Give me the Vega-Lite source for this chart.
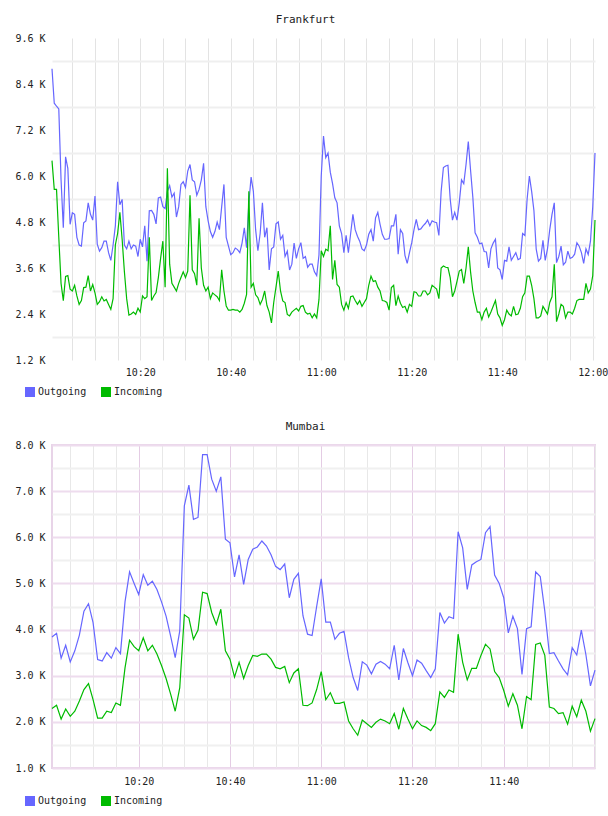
{
"$schema": "https://vega.github.io/schema/vega-lite/v6.json",
"padding": {"left": 13, "top": 14, "right": 0, "bottom": 5},
"background": "white",
"config": {"font": "DejaVu Sans Mono", "view": {"stroke": null}},
"spacing": 14,
"resolve": {"scale": {"x": "independent", "y": "independent", "color": "independent"}, "legend": {"color": "independent"}, "axis": {"x": "independent", "y": "independent"}},
"vconcat": [
{
"title": {"text": "Frankfurt", "font": "DejaVu Sans Mono", "fontSize": 11, "fontWeight": "normal", "color": "#222", "anchor": "middle", "offset": 8, "dx": -18},
"width": 543, "height": 322,
"data": {"format": {"parse": {"t": "date:'%H:%M:%S'"}}, "values": [
{"t":"10:00:30","Outgoing":8.8,"Incoming":6.4},{"t":"10:01:00","Outgoing":7.9,"Incoming":5.65},{"t":"10:01:30","Outgoing":7.82,"Incoming":5.65},{"t":"10:02:00","Outgoing":7.75,"Incoming":4.4},{"t":"10:02:30","Outgoing":5.9,"Incoming":3.2},{"t":"10:03:00","Outgoing":4.65,"Incoming":2.75},{"t":"10:03:30","Outgoing":6.5,"Incoming":3.38},{"t":"10:04:00","Outgoing":6.2,"Incoming":3.4},{"t":"10:04:30","Outgoing":4.74,"Incoming":3.05},{"t":"10:05:00","Outgoing":5.04,"Incoming":3.0},
{"t":"10:05:30","Outgoing":5.0,"Incoming":3.15},{"t":"10:06:00","Outgoing":4.4,"Incoming":2.87},{"t":"10:06:30","Outgoing":4.2,"Incoming":2.65},{"t":"10:07:00","Outgoing":4.17,"Incoming":2.75},{"t":"10:07:30","Outgoing":4.78,"Incoming":3.09},{"t":"10:08:00","Outgoing":4.83,"Incoming":3.1},{"t":"10:08:30","Outgoing":5.3,"Incoming":3.4},{"t":"10:09:00","Outgoing":5.0,"Incoming":3.0},{"t":"10:09:30","Outgoing":4.85,"Incoming":3.17},{"t":"10:10:00","Outgoing":5.48,"Incoming":2.95},
{"t":"10:10:30","Outgoing":4.22,"Incoming":2.65},{"t":"10:11:00","Outgoing":4.04,"Incoming":2.72},{"t":"10:11:30","Outgoing":4.13,"Incoming":2.85},{"t":"10:12:00","Outgoing":4.3,"Incoming":2.74},{"t":"10:12:30","Outgoing":4.3,"Incoming":2.78},{"t":"10:13:00","Outgoing":4.0,"Incoming":2.65},{"t":"10:13:30","Outgoing":3.8,"Incoming":2.52},{"t":"10:14:00","Outgoing":4.2,"Incoming":2.8},{"t":"10:14:30","Outgoing":4.7,"Incoming":4.2},{"t":"10:15:00","Outgoing":5.85,"Incoming":4.5},
{"t":"10:15:30","Outgoing":5.25,"Incoming":5.05},{"t":"10:16:00","Outgoing":5.39,"Incoming":4.35},{"t":"10:16:30","Outgoing":4.2,"Incoming":3.5},{"t":"10:17:00","Outgoing":4.1,"Incoming":2.8},{"t":"10:17:30","Outgoing":4.3,"Incoming":2.37},{"t":"10:18:00","Outgoing":4.1,"Incoming":2.4},{"t":"10:18:30","Outgoing":4.2,"Incoming":2.45},{"t":"10:19:00","Outgoing":4.17,"Incoming":2.39},{"t":"10:19:30","Outgoing":3.9,"Incoming":2.55},{"t":"10:20:00","Outgoing":4.35,"Incoming":2.45},
{"t":"10:20:30","Outgoing":4.15,"Incoming":2.87},{"t":"10:21:00","Outgoing":4.7,"Incoming":2.8},{"t":"10:21:30","Outgoing":3.78,"Incoming":2.85},{"t":"10:22:00","Outgoing":5.09,"Incoming":4.4},{"t":"10:22:30","Outgoing":5.1,"Incoming":2.75},{"t":"10:23:00","Outgoing":5.0,"Incoming":2.87},{"t":"10:23:30","Outgoing":4.75,"Incoming":2.96},{"t":"10:24:00","Outgoing":5.43,"Incoming":3.35},{"t":"10:24:30","Outgoing":5.45,"Incoming":3.85},{"t":"10:25:00","Outgoing":5.2,"Incoming":4.3},
{"t":"10:25:30","Outgoing":5.15,"Incoming":3.1},{"t":"10:26:00","Outgoing":5.6,"Incoming":6.2},{"t":"10:26:30","Outgoing":5.75,"Incoming":3.7},{"t":"10:27:00","Outgoing":5.45,"Incoming":3.2},{"t":"10:27:30","Outgoing":5.55,"Incoming":3.1},{"t":"10:28:00","Outgoing":4.93,"Incoming":3.0},{"t":"10:28:30","Outgoing":5.2,"Incoming":3.2},{"t":"10:29:00","Outgoing":5.78,"Incoming":3.35},{"t":"10:29:30","Outgoing":5.85,"Incoming":3.5},{"t":"10:30:00","Outgoing":5.7,"Incoming":3.35},
{"t":"10:30:30","Outgoing":6.13,"Incoming":3.52},{"t":"10:31:00","Outgoing":6.3,"Incoming":5.5},{"t":"10:31:30","Outgoing":5.9,"Incoming":3.55},{"t":"10:32:00","Outgoing":5.85,"Incoming":3.45},{"t":"10:32:30","Outgoing":5.5,"Incoming":3.15},{"t":"10:33:00","Outgoing":5.65,"Incoming":4.9},{"t":"10:33:30","Outgoing":5.9,"Incoming":3.6},{"t":"10:34:00","Outgoing":6.33,"Incoming":3.15},{"t":"10:34:30","Outgoing":5.2,"Incoming":3.0},{"t":"10:35:00","Outgoing":4.83,"Incoming":3.1},
{"t":"10:35:30","Outgoing":4.55,"Incoming":2.8},{"t":"10:36:00","Outgoing":4.4,"Incoming":2.95},{"t":"10:36:30","Outgoing":4.55,"Incoming":2.9},{"t":"10:37:00","Outgoing":4.8,"Incoming":2.85},{"t":"10:37:30","Outgoing":4.6,"Incoming":2.75},{"t":"10:38:00","Outgoing":5.2,"Incoming":3.55},{"t":"10:38:30","Outgoing":5.78,"Incoming":3.0},{"t":"10:39:00","Outgoing":4.4,"Incoming":2.61},{"t":"10:39:30","Outgoing":4.17,"Incoming":2.5},{"t":"10:40:00","Outgoing":3.95,"Incoming":2.5},
{"t":"10:40:30","Outgoing":4.0,"Incoming":2.52},{"t":"10:41:00","Outgoing":4.12,"Incoming":2.5},{"t":"10:41:30","Outgoing":4.08,"Incoming":2.5},{"t":"10:42:00","Outgoing":4.0,"Incoming":2.45},{"t":"10:42:30","Outgoing":4.25,"Incoming":2.52},{"t":"10:43:00","Outgoing":4.65,"Incoming":2.68},{"t":"10:43:30","Outgoing":4.13,"Incoming":2.91},{"t":"10:44:00","Outgoing":5.3,"Incoming":5.6},{"t":"10:44:30","Outgoing":5.97,"Incoming":3.1},{"t":"10:45:00","Outgoing":5.6,"Incoming":3.2},
{"t":"10:45:30","Outgoing":4.6,"Incoming":2.9},{"t":"10:46:00","Outgoing":4.05,"Incoming":2.83},{"t":"10:46:30","Outgoing":4.5,"Incoming":2.65},{"t":"10:47:00","Outgoing":5.3,"Incoming":2.78},{"t":"10:47:30","Outgoing":4.4,"Incoming":3.0},{"t":"10:48:00","Outgoing":4.65,"Incoming":2.62},{"t":"10:48:30","Outgoing":3.55,"Incoming":2.45},{"t":"10:49:00","Outgoing":4.1,"Incoming":2.17},{"t":"10:49:30","Outgoing":4.15,"Incoming":2.7},{"t":"10:50:00","Outgoing":4.75,"Incoming":3.1},
{"t":"10:50:30","Outgoing":4.8,"Incoming":3.52},{"t":"10:51:00","Outgoing":4.35,"Incoming":3.0},{"t":"10:51:30","Outgoing":4.45,"Incoming":2.74},{"t":"10:52:00","Outgoing":3.9,"Incoming":2.7},{"t":"10:52:30","Outgoing":4.04,"Incoming":2.39},{"t":"10:53:00","Outgoing":3.55,"Incoming":2.35},{"t":"10:53:30","Outgoing":3.7,"Incoming":2.45},{"t":"10:54:00","Outgoing":4.25,"Incoming":2.5},{"t":"10:54:30","Outgoing":3.85,"Incoming":2.55},{"t":"10:55:00","Outgoing":4.1,"Incoming":2.48},
{"t":"10:55:30","Outgoing":4.26,"Incoming":2.6},{"t":"10:56:00","Outgoing":3.85,"Incoming":2.62},{"t":"10:56:30","Outgoing":3.9,"Incoming":2.45},{"t":"10:57:00","Outgoing":3.62,"Incoming":2.4},{"t":"10:57:30","Outgoing":3.7,"Incoming":2.42},{"t":"10:58:00","Outgoing":3.7,"Incoming":2.3},{"t":"10:58:30","Outgoing":3.5,"Incoming":2.4},{"t":"10:59:00","Outgoing":3.4,"Incoming":2.3},{"t":"10:59:30","Outgoing":3.94,"Incoming":2.78},{"t":"11:00:00","Outgoing":6.0,"Incoming":4.05},
{"t":"11:00:30","Outgoing":7.04,"Incoming":3.9},{"t":"11:01:00","Outgoing":6.48,"Incoming":4.09},{"t":"11:01:30","Outgoing":6.6,"Incoming":4.05},{"t":"11:02:00","Outgoing":6.1,"Incoming":4.7},{"t":"11:02:30","Outgoing":5.8,"Incoming":3.3},{"t":"11:03:00","Outgoing":5.43,"Incoming":3.8},{"t":"11:03:30","Outgoing":5.3,"Incoming":3.17},{"t":"11:04:00","Outgoing":4.7,"Incoming":3.1},{"t":"11:04:30","Outgoing":4.5,"Incoming":2.65},{"t":"11:05:00","Outgoing":4.0,"Incoming":2.5},
{"t":"11:05:30","Outgoing":4.45,"Incoming":2.7},{"t":"11:06:00","Outgoing":4.0,"Incoming":2.55},{"t":"11:06:30","Outgoing":4.5,"Incoming":2.85},{"t":"11:07:00","Outgoing":5.0,"Incoming":2.87},{"t":"11:07:30","Outgoing":4.6,"Incoming":2.75},{"t":"11:08:00","Outgoing":4.43,"Incoming":2.65},{"t":"11:08:30","Outgoing":4.3,"Incoming":2.75},{"t":"11:09:00","Outgoing":4.1,"Incoming":2.6},{"t":"11:09:30","Outgoing":4.05,"Incoming":2.7},{"t":"11:10:00","Outgoing":4.2,"Incoming":2.8},
{"t":"11:10:30","Outgoing":4.48,"Incoming":3.15},{"t":"11:11:00","Outgoing":4.6,"Incoming":3.39},{"t":"11:11:30","Outgoing":4.3,"Incoming":3.25},{"t":"11:12:00","Outgoing":4.91,"Incoming":3.27},{"t":"11:12:30","Outgoing":5.05,"Incoming":3.1},{"t":"11:13:00","Outgoing":4.74,"Incoming":3.0},{"t":"11:13:30","Outgoing":4.48,"Incoming":2.75},{"t":"11:14:00","Outgoing":4.35,"Incoming":2.74},{"t":"11:14:30","Outgoing":4.35,"Incoming":2.7},{"t":"11:15:00","Outgoing":4.37,"Incoming":2.5},
{"t":"11:15:30","Outgoing":4.7,"Incoming":3.09},{"t":"11:16:00","Outgoing":4.7,"Incoming":3.15},{"t":"11:16:30","Outgoing":5.0,"Incoming":2.62},{"t":"11:17:00","Outgoing":3.96,"Incoming":2.87},{"t":"11:17:30","Outgoing":4.6,"Incoming":2.68},{"t":"11:18:00","Outgoing":4.5,"Incoming":2.57},{"t":"11:18:30","Outgoing":3.93,"Incoming":2.6},{"t":"11:19:00","Outgoing":3.72,"Incoming":2.45},{"t":"11:19:30","Outgoing":4.0,"Incoming":2.65},{"t":"11:20:00","Outgoing":4.26,"Incoming":2.6},
{"t":"11:20:30","Outgoing":4.6,"Incoming":2.98},{"t":"11:21:00","Outgoing":4.87,"Incoming":2.96},{"t":"11:21:30","Outgoing":4.6,"Incoming":2.87},{"t":"11:22:00","Outgoing":4.62,"Incoming":2.87},{"t":"11:22:30","Outgoing":4.7,"Incoming":3.0},{"t":"11:23:00","Outgoing":4.76,"Incoming":3.0},{"t":"11:23:30","Outgoing":4.85,"Incoming":2.9},{"t":"11:24:00","Outgoing":4.7,"Incoming":2.95},{"t":"11:24:30","Outgoing":4.83,"Incoming":3.15},{"t":"11:25:00","Outgoing":4.8,"Incoming":3.1},
{"t":"11:25:30","Outgoing":4.78,"Incoming":3.05},{"t":"11:26:00","Outgoing":4.45,"Incoming":2.8},{"t":"11:26:30","Outgoing":5.6,"Incoming":3.6},{"t":"11:27:00","Outgoing":6.22,"Incoming":3.65},{"t":"11:27:30","Outgoing":6.26,"Incoming":3.62},{"t":"11:28:00","Outgoing":6.28,"Incoming":3.61},{"t":"11:28:30","Outgoing":5.4,"Incoming":3.35},{"t":"11:29:00","Outgoing":4.85,"Incoming":2.85},{"t":"11:29:30","Outgoing":5.05,"Incoming":3.0},{"t":"11:30:00","Outgoing":4.85,"Incoming":3.25},
{"t":"11:30:30","Outgoing":5.3,"Incoming":3.52},{"t":"11:31:00","Outgoing":5.9,"Incoming":3.56},{"t":"11:31:30","Outgoing":5.8,"Incoming":3.2},{"t":"11:32:00","Outgoing":6.3,"Incoming":3.6},{"t":"11:32:30","Outgoing":6.9,"Incoming":4.15},{"t":"11:33:00","Outgoing":6.15,"Incoming":3.5},{"t":"11:33:30","Outgoing":5.45,"Incoming":3.0},{"t":"11:34:00","Outgoing":4.52,"Incoming":2.7},{"t":"11:34:30","Outgoing":4.4,"Incoming":2.45},{"t":"11:35:00","Outgoing":4.23,"Incoming":2.45},
{"t":"11:35:30","Outgoing":4.25,"Incoming":2.25},{"t":"11:36:00","Outgoing":4.03,"Incoming":2.45},{"t":"11:36:30","Outgoing":4.02,"Incoming":2.55},{"t":"11:37:00","Outgoing":3.6,"Incoming":2.32},{"t":"11:37:30","Outgoing":4.1,"Incoming":2.45},{"t":"11:38:00","Outgoing":4.25,"Incoming":2.6},{"t":"11:38:30","Outgoing":4.35,"Incoming":2.75},{"t":"11:39:00","Outgoing":3.6,"Incoming":2.4},{"t":"11:39:30","Outgoing":3.55,"Incoming":2.3},{"t":"11:40:00","Outgoing":3.3,"Incoming":2.1},
{"t":"11:40:30","Outgoing":3.8,"Incoming":2.25},{"t":"11:41:00","Outgoing":3.78,"Incoming":2.5},{"t":"11:41:30","Outgoing":4.15,"Incoming":2.4},{"t":"11:42:00","Outgoing":3.8,"Incoming":2.35},{"t":"11:42:30","Outgoing":3.9,"Incoming":2.6},{"t":"11:43:00","Outgoing":4.0,"Incoming":2.38},{"t":"11:43:30","Outgoing":3.82,"Incoming":2.4},{"t":"11:44:00","Outgoing":3.85,"Incoming":2.55},{"t":"11:44:30","Outgoing":4.5,"Incoming":2.85},{"t":"11:45:00","Outgoing":4.45,"Incoming":2.95},
{"t":"11:45:30","Outgoing":5.4,"Incoming":3.39},{"t":"11:46:00","Outgoing":6.0,"Incoming":3.39},{"t":"11:46:30","Outgoing":5.6,"Incoming":3.15},{"t":"11:47:00","Outgoing":5.1,"Incoming":2.8},{"t":"11:47:30","Outgoing":4.1,"Incoming":2.3},{"t":"11:48:00","Outgoing":3.78,"Incoming":2.3},{"t":"11:48:30","Outgoing":3.85,"Incoming":2.35},{"t":"11:49:00","Outgoing":4.32,"Incoming":2.6},{"t":"11:49:30","Outgoing":3.8,"Incoming":2.5},{"t":"11:50:00","Outgoing":4.1,"Incoming":2.4},
{"t":"11:50:30","Outgoing":4.6,"Incoming":2.7},{"t":"11:51:00","Outgoing":5.0,"Incoming":2.85},{"t":"11:51:30","Outgoing":5.3,"Incoming":3.7},{"t":"11:52:00","Outgoing":3.74,"Incoming":2.2},{"t":"11:52:30","Outgoing":3.9,"Incoming":2.4},{"t":"11:53:00","Outgoing":4.17,"Incoming":2.65},{"t":"11:53:30","Outgoing":3.68,"Incoming":2.6},{"t":"11:54:00","Outgoing":3.75,"Incoming":2.3},{"t":"11:54:30","Outgoing":4.04,"Incoming":2.45},{"t":"11:55:00","Outgoing":3.85,"Incoming":2.45},
{"t":"11:55:30","Outgoing":3.88,"Incoming":2.4},{"t":"11:56:00","Outgoing":3.96,"Incoming":2.55},{"t":"11:56:30","Outgoing":4.26,"Incoming":2.75},{"t":"11:57:00","Outgoing":4.17,"Incoming":2.78},{"t":"11:57:30","Outgoing":4.0,"Incoming":2.78},{"t":"11:58:00","Outgoing":3.72,"Incoming":2.78},{"t":"11:58:30","Outgoing":4.1,"Incoming":3.2},{"t":"11:59:00","Outgoing":3.95,"Incoming":2.95},{"t":"11:59:30","Outgoing":4.3,"Incoming":3.05},{"t":"12:00:00","Outgoing":5.2,"Incoming":3.4},
{"t":"12:00:30","Outgoing":6.6,"Incoming":4.85}
]},
"transform": [{"fold": ["Outgoing", "Incoming"], "as": ["series", "value"]}],
"layer": [
{"mark": {"type": "line", "opacity": 0},
 "encoding": {
 "x": {"field": "t", "type": "temporal", "scale": {"nice": false}, "axis": {"title": null, "orient": "bottom", "tickCount": 24, "labels": false, "ticks": false, "domain": false, "grid": true, "gridColor": "#e3e3e3", "gridWidth": 1}},
 "y": {"field": "value", "type": "quantitative", "scale": {"domain": [1.2, 9.6], "nice": false, "zero": false}, "axis": {"title": null, "orient": "left", "values": [1.8, 3.0, 4.2, 5.4, 6.6, 7.8, 9.0], "labels": false, "ticks": false, "domain": false, "grid": true, "gridColor": "#efefef", "gridWidth": 2}},
 "detail": {"field": "series", "type": "nominal"}}},
{"mark": {"type": "line", "strokeWidth": 1.2},
 "encoding": {
 "x": {"field": "t", "type": "temporal", "scale": {"nice": false}, "axis": {"title": null, "orient": "bottom", "tickCount": 24, "labelExpr": "minutes(datum.value) % 20 == 0 ? timeFormat(datum.value, '%H:%M') : ''", "ticks": false, "domain": false, "grid": false, "labelFont": "DejaVu Sans Mono", "labelFontSize": 10, "labelColor": "#222", "labelPadding": 7, "labelFlush": false, "labelOverlap": false}},
 "y": {"field": "value", "type": "quantitative", "scale": {"domain": [1.2, 9.6], "nice": false, "zero": false}, "axis": {"title": null, "orient": "left", "values": [1.2, 2.4, 3.6, 4.8, 6.0, 7.2, 8.4, 9.6], "format": ".1f", "labelExpr": "datum.label + ' K'", "ticks": false, "domain": false, "grid": false, "labelFont": "DejaVu Sans Mono", "labelFontSize": 10, "labelColor": "#222", "labelPadding": 7, "labelOverlap": false}},
 "color": {"field": "series", "type": "nominal", "scale": {"domain": ["Outgoing", "Incoming"], "range": ["#6666ff", "#00bb00"]},
  "legend": {"orient": "none", "legendX": -27, "legendY": 349, "direction": "horizontal", "title": null, "symbolType": "square", "symbolSize": 16, "symbolStrokeWidth": 6, "symbolOpacity": 1, "labelFont": "DejaVu Sans Mono", "labelFontSize": 10, "labelColor": "#222", "labelOffset": 3, "columnPadding": 5, "padding": 0}}}}
],
"resolve": {"axis": {"x": "independent", "y": "independent"}}
},
{
"title": {"text": "Mumbai", "font": "DejaVu Sans Mono", "fontSize": 11, "fontWeight": "normal", "color": "#222", "anchor": "middle", "offset": 8, "dx": -18},
"width": 543, "height": 323,
"view": {"stroke": "#e8d4e8", "strokeWidth": 2},
"data": {"format": {"parse": {"t": "date:'%H:%M'"}}, "values": [
{"t":"10:01","Outgoing":3.84,"Incoming":2.29},{"t":"10:02","Outgoing":3.92,"Incoming":2.36},{"t":"10:03","Outgoing":3.38,"Incoming":2.06},{"t":"10:04","Outgoing":3.66,"Incoming":2.28},{"t":"10:05","Outgoing":3.3,"Incoming":2.12},{"t":"10:06","Outgoing":3.54,"Incoming":2.23},{"t":"10:07","Outgoing":3.88,"Incoming":2.45},{"t":"10:08","Outgoing":4.4,"Incoming":2.7},{"t":"10:09","Outgoing":4.56,"Incoming":2.83},{"t":"10:10","Outgoing":4.15,"Incoming":2.48},
{"t":"10:11","Outgoing":3.35,"Incoming":2.08},{"t":"10:12","Outgoing":3.32,"Incoming":2.08},{"t":"10:13","Outgoing":3.5,"Incoming":2.23},{"t":"10:14","Outgoing":3.38,"Incoming":2.2},{"t":"10:15","Outgoing":3.61,"Incoming":2.41},{"t":"10:16","Outgoing":3.48,"Incoming":2.36},{"t":"10:17","Outgoing":4.6,"Incoming":3.17},{"t":"10:18","Outgoing":5.25,"Incoming":3.77},{"t":"10:19","Outgoing":5.0,"Incoming":3.63},{"t":"10:20","Outgoing":4.76,"Incoming":3.54},
{"t":"10:21","Outgoing":5.19,"Incoming":3.82},{"t":"10:22","Outgoing":4.96,"Incoming":3.54},{"t":"10:23","Outgoing":5.05,"Incoming":3.66},{"t":"10:24","Outgoing":4.87,"Incoming":3.47},{"t":"10:25","Outgoing":4.6,"Incoming":3.22},{"t":"10:26","Outgoing":4.29,"Incoming":2.94},{"t":"10:27","Outgoing":3.86,"Incoming":2.6},{"t":"10:28","Outgoing":3.39,"Incoming":2.23},{"t":"10:29","Outgoing":3.97,"Incoming":2.74},{"t":"10:30","Outgoing":6.68,"Incoming":4.32},
{"t":"10:31","Outgoing":7.13,"Incoming":4.25},{"t":"10:32","Outgoing":6.39,"Incoming":3.79},{"t":"10:33","Outgoing":6.43,"Incoming":3.99},{"t":"10:34","Outgoing":7.79,"Incoming":4.81},{"t":"10:35","Outgoing":7.79,"Incoming":4.78},{"t":"10:36","Outgoing":7.26,"Incoming":4.37},{"t":"10:37","Outgoing":7.0,"Incoming":4.11},{"t":"10:38","Outgoing":7.31,"Incoming":4.44},{"t":"10:39","Outgoing":5.96,"Incoming":3.54},{"t":"10:40","Outgoing":5.88,"Incoming":3.36},
{"t":"10:41","Outgoing":5.14,"Incoming":2.97},{"t":"10:42","Outgoing":5.62,"Incoming":3.29},{"t":"10:43","Outgoing":4.98,"Incoming":2.94},{"t":"10:44","Outgoing":5.52,"Incoming":3.22},{"t":"10:45","Outgoing":5.74,"Incoming":3.44},{"t":"10:46","Outgoing":5.79,"Incoming":3.42},{"t":"10:47","Outgoing":5.92,"Incoming":3.47},{"t":"10:48","Outgoing":5.81,"Incoming":3.47},{"t":"10:49","Outgoing":5.62,"Incoming":3.36},{"t":"10:50","Outgoing":5.37,"Incoming":3.18},
{"t":"10:51","Outgoing":5.3,"Incoming":3.15},{"t":"10:52","Outgoing":5.42,"Incoming":3.2},{"t":"10:53","Outgoing":4.69,"Incoming":2.85},{"t":"10:54","Outgoing":5.09,"Incoming":3.06},{"t":"10:55","Outgoing":5.22,"Incoming":3.15},{"t":"10:56","Outgoing":4.3,"Incoming":2.36},{"t":"10:57","Outgoing":3.9,"Incoming":2.35},{"t":"10:58","Outgoing":3.87,"Incoming":2.41},{"t":"10:59","Outgoing":4.5,"Incoming":2.7},{"t":"11:00","Outgoing":5.1,"Incoming":3.09},
{"t":"11:01","Outgoing":4.16,"Incoming":2.48},{"t":"11:02","Outgoing":4.16,"Incoming":2.63},{"t":"11:03","Outgoing":3.79,"Incoming":2.4},{"t":"11:04","Outgoing":3.92,"Incoming":2.4},{"t":"11:05","Outgoing":3.96,"Incoming":2.43},{"t":"11:06","Outgoing":3.39,"Incoming":2.02},{"t":"11:07","Outgoing":2.96,"Incoming":1.85},{"t":"11:08","Outgoing":2.68,"Incoming":1.71},{"t":"11:09","Outgoing":3.3,"Incoming":2.04},{"t":"11:10","Outgoing":3.23,"Incoming":1.96},
{"t":"11:11","Outgoing":3.04,"Incoming":1.88},{"t":"11:12","Outgoing":3.25,"Incoming":1.99},{"t":"11:13","Outgoing":3.31,"Incoming":2.06},{"t":"11:14","Outgoing":3.25,"Incoming":2.02},{"t":"11:15","Outgoing":3.15,"Incoming":1.96},{"t":"11:16","Outgoing":3.66,"Incoming":2.18},{"t":"11:17","Outgoing":2.91,"Incoming":1.84},{"t":"11:18","Outgoing":3.59,"Incoming":2.29},{"t":"11:19","Outgoing":3.28,"Incoming":2.06},{"t":"11:20","Outgoing":3.0,"Incoming":1.85},
{"t":"11:21","Outgoing":3.34,"Incoming":2.02},{"t":"11:22","Outgoing":3.27,"Incoming":1.92},{"t":"11:23","Outgoing":3.11,"Incoming":1.88},{"t":"11:24","Outgoing":2.96,"Incoming":1.81},{"t":"11:25","Outgoing":3.15,"Incoming":1.96},{"t":"11:26","Outgoing":4.37,"Incoming":2.65},{"t":"11:27","Outgoing":4.14,"Incoming":2.53},{"t":"11:28","Outgoing":4.28,"Incoming":2.69},{"t":"11:29","Outgoing":4.24,"Incoming":2.64},{"t":"11:30","Outgoing":6.12,"Incoming":3.9},
{"t":"11:31","Outgoing":5.77,"Incoming":3.29},{"t":"11:32","Outgoing":4.87,"Incoming":2.91},{"t":"11:33","Outgoing":5.4,"Incoming":3.16},{"t":"11:34","Outgoing":5.47,"Incoming":3.16},{"t":"11:35","Outgoing":5.52,"Incoming":3.44},{"t":"11:36","Outgoing":6.1,"Incoming":3.68},{"t":"11:37","Outgoing":6.23,"Incoming":3.58},{"t":"11:38","Outgoing":5.18,"Incoming":3.09},{"t":"11:39","Outgoing":5.0,"Incoming":2.96},{"t":"11:40","Outgoing":4.69,"Incoming":2.68},
{"t":"11:41","Outgoing":3.93,"Incoming":2.34},{"t":"11:42","Outgoing":4.29,"Incoming":2.61},{"t":"11:43","Outgoing":4.02,"Incoming":2.36},{"t":"11:44","Outgoing":3.03,"Incoming":1.85},{"t":"11:45","Outgoing":4.02,"Incoming":2.55},{"t":"11:46","Outgoing":4.06,"Incoming":2.48},{"t":"11:47","Outgoing":5.25,"Incoming":3.68},{"t":"11:48","Outgoing":5.15,"Incoming":3.71},{"t":"11:49","Outgoing":4.4,"Incoming":3.44},{"t":"11:50","Outgoing":3.48,"Incoming":2.32},
{"t":"11:51","Outgoing":3.5,"Incoming":2.29},{"t":"11:52","Outgoing":3.32,"Incoming":2.18},{"t":"11:53","Outgoing":3.15,"Incoming":2.2},{"t":"11:54","Outgoing":3.02,"Incoming":1.95},{"t":"11:55","Outgoing":3.61,"Incoming":2.34},{"t":"11:56","Outgoing":3.45,"Incoming":2.11},{"t":"11:57","Outgoing":3.99,"Incoming":2.47},{"t":"11:58","Outgoing":3.46,"Incoming":2.23},{"t":"11:59","Outgoing":2.78,"Incoming":1.8},{"t":"12:00","Outgoing":3.12,"Incoming":2.07}
]},
"transform": [{"fold": ["Outgoing", "Incoming"], "as": ["series", "value"]}],
"layer": [
{"mark": {"type": "line", "opacity": 0},
 "encoding": {
 "x": {"field": "t", "type": "temporal", "scale": {"nice": false}, "axis": {"title": null, "orient": "bottom", "tickCount": 24, "labels": false, "ticks": false, "domain": false, "grid": true, "gridColor": "#e8e8e8", "gridWidth": 1}},
 "y": {"field": "value", "type": "quantitative", "scale": {"domain": [1, 8], "nice": false, "zero": false}, "axis": {"title": null, "orient": "left", "values": [1.5, 2.5, 3.5, 4.5, 5.5, 6.5, 7.5], "labels": false, "ticks": false, "domain": false, "grid": true, "gridColor": "#f0f0f0", "gridWidth": 2}},
 "detail": {"field": "series", "type": "nominal"}}},
{"mark": {"type": "line", "strokeWidth": 1.2},
 "encoding": {
 "x": {"field": "t", "type": "temporal", "scale": {"nice": false}, "axis": {"title": null, "orient": "bottom", "values": [{"year": 1900, "month": 1, "date": 1, "hours": 10, "minutes": 20}, {"year": 1900, "month": 1, "date": 1, "hours": 10, "minutes": 40}, {"year": 1900, "month": 1, "date": 1, "hours": 11, "minutes": 0}, {"year": 1900, "month": 1, "date": 1, "hours": 11, "minutes": 20}, {"year": 1900, "month": 1, "date": 1, "hours": 11, "minutes": 40}], "format": "%H:%M", "ticks": false, "domain": false, "grid": true, "gridColor": "#e4cce4", "gridWidth": 1, "labelFont": "DejaVu Sans Mono", "labelFontSize": 10, "labelColor": "#222", "labelPadding": 8, "labelFlush": false, "labelOverlap": false}},
 "y": {"field": "value", "type": "quantitative", "scale": {"domain": [1, 8], "nice": false, "zero": false}, "axis": {"title": null, "orient": "left", "values": [1, 2, 3, 4, 5, 6, 7, 8], "format": ".1f", "labelExpr": "datum.label + ' K'", "ticks": false, "domain": false, "grid": true, "gridColor": "#eedcee", "gridWidth": 2, "labelFont": "DejaVu Sans Mono", "labelFontSize": 10, "labelColor": "#222", "labelPadding": 7, "labelOverlap": false}},
 "color": {"field": "series", "type": "nominal", "scale": {"domain": ["Outgoing", "Incoming"], "range": ["#6666ff", "#00bb00"]},
  "legend": {"orient": "none", "legendX": -27, "legendY": 351, "direction": "horizontal", "title": null, "symbolType": "square", "symbolSize": 16, "symbolStrokeWidth": 6, "symbolOpacity": 1, "labelFont": "DejaVu Sans Mono", "labelFontSize": 10, "labelColor": "#222", "labelOffset": 3, "columnPadding": 5, "padding": 0}}}}
],
"resolve": {"axis": {"x": "independent", "y": "independent"}}
}
]
}
